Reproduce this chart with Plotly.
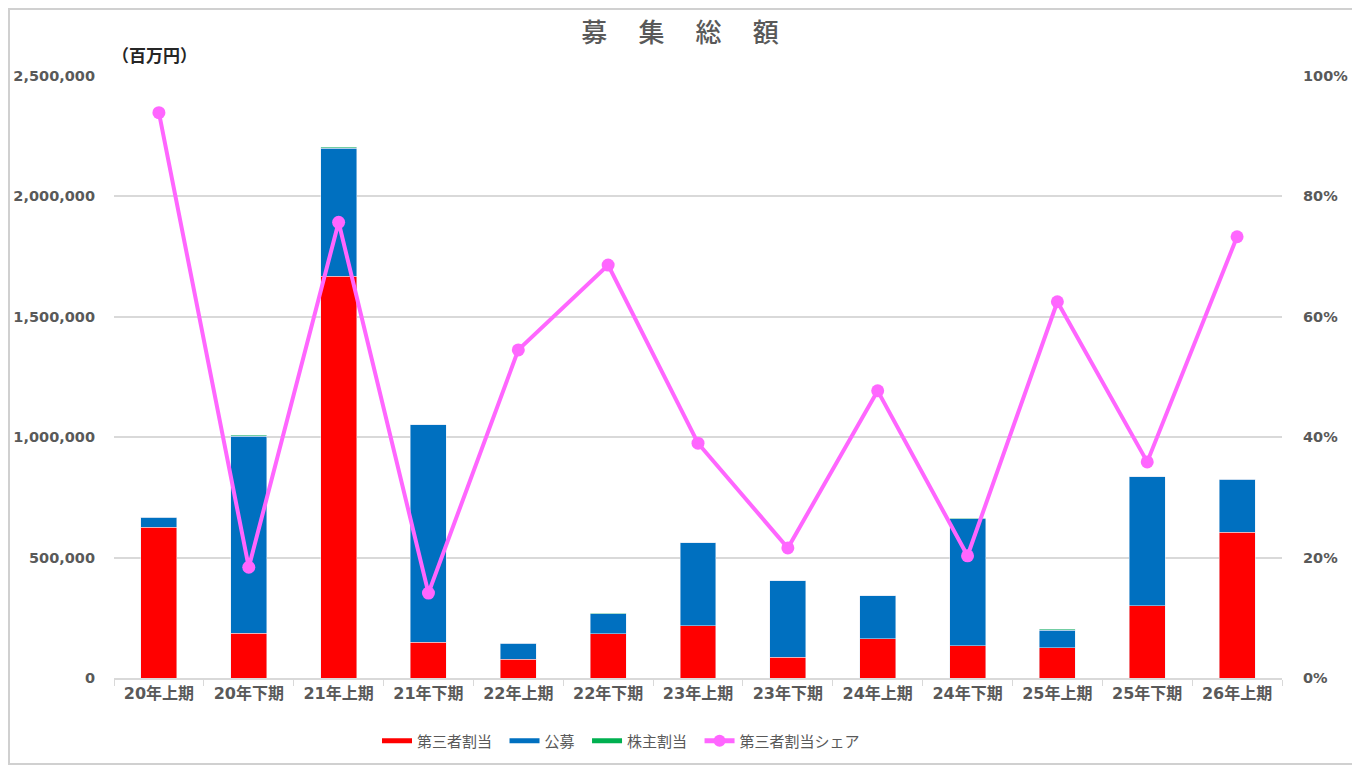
import plotly.graph_objects as go

# 期ごとの募集額（百万円）
periods = ["20年上期", "20年下期", "21年上期", "21年下期", "22年上期", "22年下期", "23年上期",
           "23年下期", "24年上期", "24年下期", "25年上期", "25年下期", "26年上期"]
third_party = [627000, 186000, 1669000, 148000, 78000, 183000, 217000,
               87000, 163000, 134000, 126000, 300000, 606000]
public_offer = [41000, 819000, 532000, 903000, 66000, 83000, 345000,
                317000, 179000, 527000, 73000, 535000, 219000]
shareholder = [0, 3000, 4000, 0, 0, 3000, 0, 0, 0, 2000, 3000, 0, 0]
share = [0.939, 0.184, 0.757, 0.141, 0.545, 0.686, 0.390,
         0.216, 0.477, 0.203, 0.625, 0.359, 0.733]

FONT = "Noto Sans CJK JP"
NUMFONT = "DejaVu Sans, Noto Sans CJK JP"
GRAY = "#595959"
RED, BLUE, GREEN, PINK = "#FF0000", "#0070C0", "#00B050", "#FF66FF"

fig = go.Figure()
# 棒（凡例は下のダミーで横長に描く）
fig.add_trace(go.Bar(x=periods, y=third_party, name="第三者割当", marker_color=RED, showlegend=False))
fig.add_trace(go.Bar(x=periods, y=public_offer, name="公募", marker_color=BLUE, showlegend=False))
fig.add_trace(go.Bar(x=periods, y=shareholder, name="株主割当", marker_color=GREEN, showlegend=False))
fig.add_trace(go.Scatter(x=periods, y=share, name="第三者割当シェア", yaxis="y2",
                         mode="lines+markers", showlegend=False,
                         line=dict(color=PINK, width=4),
                         marker=dict(color=PINK, size=13)))

# 凡例用
pad = "\u2002"
for nm, col in [("第三者割当", RED), ("公募", BLUE), ("株主割当", GREEN)]:
    fig.add_trace(go.Scatter(x=[None], y=[None], name=nm + pad, mode="lines",
                             line=dict(color=col, width=8)))
fig.add_trace(go.Scatter(x=[None], y=[None], name="第三者割当シェア", mode="lines+markers",
                         yaxis="y2", line=dict(color=PINK, width=4),
                         marker=dict(color=PINK, size=11)))

W, H = 1352, 757   # body margin 8px
ml, mr, mt, mb = 106, 78, 68, 87
pw, ph = W - ml - mr, H - mt - mb

fig.update_layout(
    width=W, height=H,
    margin=dict(l=ml, r=mr, t=mt, b=mb, autoexpand=False),
    barmode="stack", bargap=0.6,
    plot_bgcolor="white", paper_bgcolor="white",
    font=dict(family=FONT, color=GRAY, size=14),
    title=dict(text="募　\u2009集　\u2009総　\u2009額", x=(680 - 8 - ml) / pw, xref="paper",
               xanchor="center", y=1 - 25 / H, yanchor="middle",
               font=dict(size=26, color=GRAY, family=FONT, weight=500)),
    showlegend=True,
    legend=dict(orientation="h", x=(621 - 8 - ml) / pw, xanchor="center",
                y=-(741 - 8 - mt - ph) / ph, yanchor="middle",
                font=dict(size=15, color=GRAY), traceorder="normal",
                itemsizing="constant", tracegroupgap=0),
    xaxis=dict(type="category", range=[-0.5, 12.5], showgrid=False, showline=True,
               linecolor="#D9D9D9", linewidth=1.5, automargin=False,
               ticks="outside", tickson="boundaries", ticklen=6, tickcolor="#D9D9D9",
               tickfont=dict(size=16, color=GRAY, family=NUMFONT, weight="bold")),
    yaxis=dict(range=[0, 2500000], dtick=500000, tickformat=",", showgrid=True,
               gridcolor="#D9D9D9", gridwidth=1.5, zeroline=False, showline=False,
               automargin=False,
               tickfont=dict(size=14.5, color=GRAY, family=NUMFONT, weight="bold"), ticks="",
               ticklabelstandoff=18),
    yaxis2=dict(range=[0, 1], dtick=0.2, tickformat=".0%", overlaying="y", side="right",
                showgrid=False, zeroline=False, showline=False, automargin=False,
                tickfont=dict(size=14.5, color=GRAY, family=NUMFONT, weight="bold"),
                ticklabelstandoff=20),
    annotations=[dict(text="（百万円）", xref="paper", yref="paper", x=(110 - 8 - ml) / pw,
                      y=1 + (76 - 54) / ph, xanchor="left", yanchor="middle", showarrow=False,
                      font=dict(size=17, color="#262626", family=FONT, weight="bold"))],
    shapes=[dict(type="rect", xref="paper", yref="paper",
                 x0=-(ml - 1) / pw, x1=1 + (mr - 1) / pw,
                 y0=-(mb - 1) / ph, y1=1 + (mt - 1) / ph,
                 line=dict(color="#D0D0D0", width=2), layer="below")],
)

fig.write_html("out.html")
